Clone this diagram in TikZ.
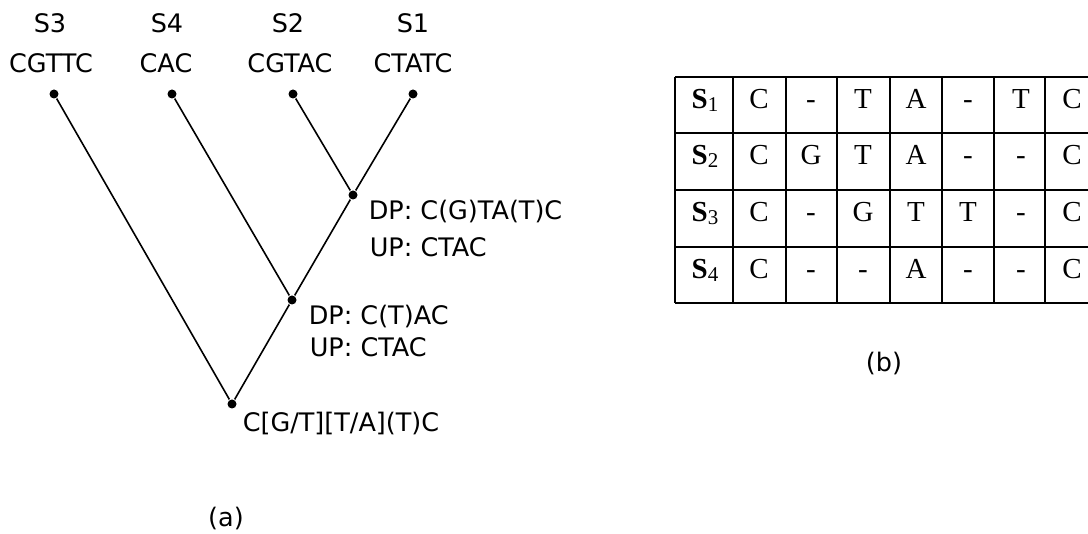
\documentclass[tikz,border=0pt]{standalone}
\usepackage{fontspec}
\setmainfont{DejaVu Sans}
\newfontfamily\tabfont{Liberation Serif}
\usetikzlibrary{positioning}
\newcommand\seqname[1]{\textbf{S}\raisebox{-3pt}{\fontsize{21}{24}\selectfont #1}}

\begin{document}
\begin{tikzpicture}[x=1pt,y=-1pt,line width=1.6pt,
    dot/.style={circle,fill,inner sep=0pt,minimum size=9pt},
    lbl/.style={inner sep=0pt,anchor=base,font=\fontsize{25.5}{30}\selectfont},
    info/.style={lbl,anchor=base west},
    cell/.style={inner sep=0pt,anchor=base,font=\tabfont\fontsize{29}{34}\selectfont}]
            \useasboundingbox (0,0) rectangle (1088,534);
            \clip (0,0) rectangle (1088,534);

            % leaves
            \node[dot] (S3) at (54,94) {};
            \node[dot] (S4) at (172,94) {};
            \node[dot] (S2) at (293,94) {};
            \node[dot] (S1) at (413,94) {};
            \node[lbl] (S3n) at (50,33) {S3};
            \node[lbl] (S3s) at (51,73) {CGTTC};
            \node[lbl] (S4n) at (167,33) {S4};
            \node[lbl] (S4s) at (166,73) {CAC};
            \node[lbl] (S2n) at (288,33) {S2};
            \node[lbl] (S2s) at (290,73) {CGTAC};
            \node[lbl] (S1n) at (413,33) {S1};
            \node[lbl] (S1s) at (413,73) {CTATC};

            % inner nodes
            \node[dot] (X) at (353,195) {};
            \node[dot] (Y) at (292,300) {};
            \node[dot] (R) at (232,404) {};
            \node[info] (Xd) at (368,220) {DP: C(G)TA(T)C};
            \node[info] (Xu) at (369,257) {UP: CTAC};
            \node[info] (Yd) at (308,325) {DP: C(T)AC};
            \node[info] (Yu) at (309,357) {UP: CTAC};
            \node[info] (Rl) at (242,432) {C[G/T][T/A](T)C};

            \path (R) edge (S3) edge (Y)
                  (Y) edge (S4) edge (X)
                  (X) edge (S2) edge (S1);

            \node[lbl] (capa) at (226,527) {(a)};
            \node[lbl] (capb) at (884,372) {(b)};

            % alignment table
            \foreach \y in {77,133,190,247,303}
                \draw (675,\y) -- (1088,\y);
            \foreach \x in {675,733,786,837,890,942,994,1045}
                \draw (\x,77) -- (\x,303);
            \foreach \s/\y/\a/\b/\c/\d/\e/\f/\g in
                {1/109/C/-/T/A/-/T/C, 2/165/C/G/T/A/-/-/C,
                 3/222/C/-/G/T/T/-/C, 4/279/C/-/-/A/-/-/C} {
                \node[cell] (s\s) at (705,\y) {\seqname{\s}};
                \foreach \x/\t [count=\k] in {759/\a,811/\b,863/\c,916/\d,968/\e,1021/\f,1072/\g}
                    \node[cell] (c\s-\k) at (\x,\y) {\t};
            }
            \end{tikzpicture}
\end{document}
